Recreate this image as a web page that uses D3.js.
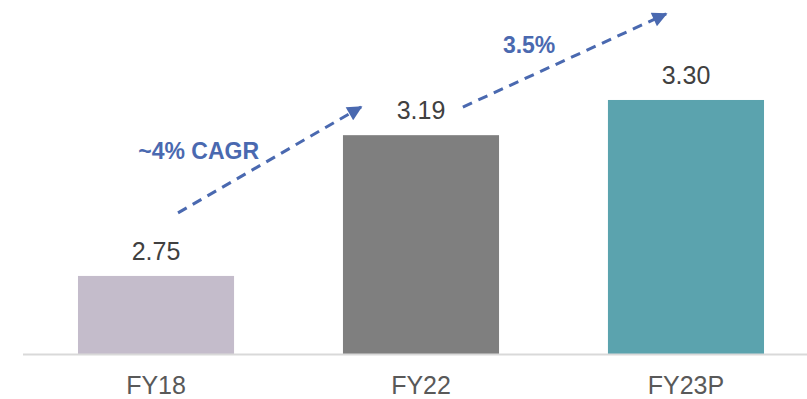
<!DOCTYPE html>
<html>
<head>
<meta charset="utf-8">
<script src="https://cdn.jsdelivr.net/npm/d3@7"></script>
<style>
  html, body { margin: 0; padding: 0; background: #ffffff; }
  svg { display: block; font-family: "Liberation Sans", Arial, sans-serif; }
</style>
</head>
<body>
<svg id="chart" width="807" height="399"></svg>
<script>
// ---- data ----
const categories = ["FY18", "FY22", "FY23P"];
const values = [2.75, 3.19, 3.30];
const valueLabels = ["2.75", "3.19", "3.30"];
const barColors = ["#c4bccb", "#7f7f7f", "#5ba3ae"];

// growth arrows, in data terms: position along category index, value on y scale
const arrowFromIndex = [0.083, 1.158];
const arrowFromValue = [2.947, 3.278];
const arrowToIndex = [0.774, 1.925];
const arrowToValue = [3.278, 3.569];
const growthLabels = ["~4% CAGR", "3.5%"];
const growthLabelIndex = [0.161, 1.408];
const growthLabelValue = [3.116, 3.447];

// ---- layout ----
const W = 807, H = 399;
const svg = d3.select("#chart");

const x = d3.scaleBand()
  .domain(categories)
  .range([23, 819])
  .paddingInner(0.411)
  .paddingOuter(0.2075);

const y = d3.scaleLinear()
  .domain([2.506, 3.6])
  .range([354, 4]);

const centerAt = (t) => {
  const c0 = x(categories[0]) + x.bandwidth() / 2;
  return c0 + t * x.step();
};

// bars
svg.append("g")
  .selectAll("rect")
  .data(values)
  .join("rect")
  .attr("x", (d, i) => x(categories[i]))
  .attr("y", d => y(d))
  .attr("width", x.bandwidth())
  .attr("height", d => y.range()[0] - y(d))
  .attr("fill", (d, i) => barColors[i]);

// baseline axis
const xAxis = d3.axisBottom(x).tickSize(0).tickPadding(22);
const gx = svg.append("g")
  .attr("transform", `translate(0,${y.range()[0]})`)
  .call(xAxis);
gx.select(".domain").remove();
gx.append("line")
  .attr("x1", 23).attr("x2", W)
  .attr("y1", 0.5).attr("y2", 0.5)
  .attr("stroke", "#d9d9d9")
  .attr("stroke-width", 2);
gx.selectAll(".tick text")
  .attr("font-size", 25)
  .attr("fill", "#595959")
  .attr("font-family", "Liberation Sans, Arial, sans-serif");

// value labels
svg.append("g")
  .selectAll("text")
  .data(values)
  .join("text")
  .attr("x", (d, i) => x(categories[i]) + x.bandwidth() / 2)
  .attr("y", d => y(d) - 16)
  .attr("text-anchor", "middle")
  .attr("font-size", 25)
  .attr("fill", "#404040")
  .text((d, i) => valueLabels[i]);

// arrowhead marker
const arrowColor = "#4a69b0";
svg.append("defs").append("marker")
  .attr("id", "arrowhead")
  .attr("viewBox", "0 0 10 10")
  .attr("refX", 9)
  .attr("refY", 5)
  .attr("markerWidth", 5.5)
  .attr("markerHeight", 5)
  .attr("markerUnits", "strokeWidth")
  .attr("orient", "auto")
  .append("path")
  .attr("d", "M0,0 L10,5 L0,10 Z")
  .attr("fill", arrowColor);

svg.append("g")
  .selectAll("line")
  .data(arrowFromIndex)
  .join("line")
  .attr("x1", (d, i) => centerAt(d))
  .attr("y1", (d, i) => y(arrowFromValue[i]))
  .attr("x2", (d, i) => centerAt(arrowToIndex[i]))
  .attr("y2", (d, i) => y(arrowToValue[i]))
  .attr("stroke", arrowColor)
  .attr("stroke-width", 3)
  .attr("stroke-dasharray", "10,7")
  .attr("marker-end", "url(#arrowhead)");

svg.append("g")
  .selectAll("text")
  .data(growthLabels)
  .join("text")
  .attr("x", (d, i) => centerAt(growthLabelIndex[i]))
  .attr("y", (d, i) => y(growthLabelValue[i]))
  .attr("text-anchor", "middle")
  .attr("font-size", 23)
  .attr("font-weight", "bold")
  .attr("fill", arrowColor)
  .text(d => d);
</script>
</body>
</html>
